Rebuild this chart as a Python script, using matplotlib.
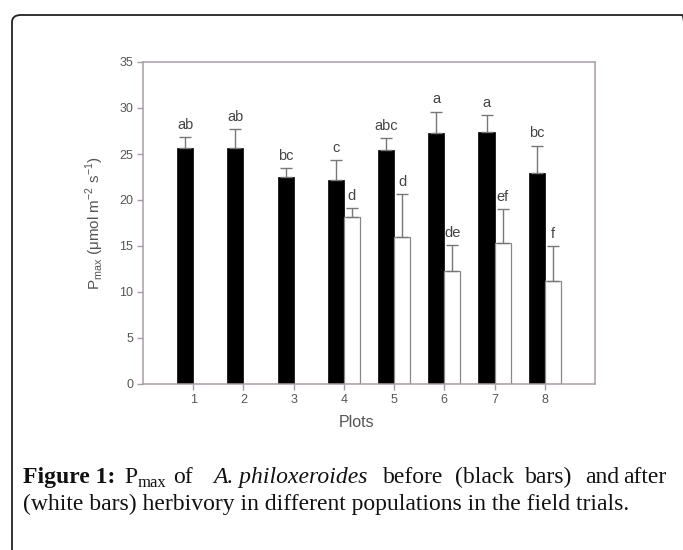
import numpy as np
import matplotlib.pyplot as plt
from matplotlib.patches import FancyBboxPatch

plt.rcParams['font.family'] = ['Liberation Sans', 'DejaVu Sans']

# data
plots = [1, 2, 3, 4, 5, 6, 7, 8]
before = [25.7, 25.7, 22.5, 22.2, 25.4, 27.3, 27.4, 22.9]
before_err = [1.1, 2.0, 1.0, 2.1, 1.3, 2.3, 1.8, 3.0]
after = [np.nan, np.nan, np.nan, 18.1, 16.0, 12.3, 15.3, 11.2]
after_err = [np.nan, np.nan, np.nan, 1.0, 4.6, 2.8, 3.7, 3.8]
before_letters = ['ab', 'ab', 'bc', 'c', 'abc', 'a', 'a', 'bc']
after_letters = ['', '', '', 'd', 'd', 'de', 'ef', 'f']

W, H = 683, 550
fig = plt.figure(figsize=(W / 100, H / 100), dpi=100)

# rounded frame around the figure panel (right and bottom sides run off the page)
frame = FancyBboxPatch((12 / W, -0.1), (W - 12 + 8) / W, 1 - 15 / H + 0.1,
                       boxstyle='round,pad=0,rounding_size=0.013',
                       transform=fig.transFigure, fill=False,
                       edgecolor='#222222', linewidth=1.3)
fig.patches.append(frame)

ax = fig.add_axes([143 / W, 1 - 384 / H, 452 / W, 322 / H])

x = np.array(plots, dtype=float)
bw = 0.32
spine_c = '#a89ca8'
txt_c = '#555555'

ax.bar(x, before, width=-bw, align='edge', color='black', edgecolor='black', linewidth=0.5)
ax.errorbar(x - bw / 2, before, yerr=[np.zeros(8), before_err], fmt='none',
            ecolor='#777777', elinewidth=1, capsize=4, capthick=1)

ax.bar(x, after, width=bw, align='edge', color='white', edgecolor='#888888', linewidth=0.9)
ax.errorbar(x + bw / 2, after, yerr=[np.zeros(8), after_err], fmt='none',
            ecolor='#777777', elinewidth=1, capsize=4, capthick=1)

for i in range(8):
    ax.text(x[i] - bw / 2, before[i] + before_err[i] + 0.9, before_letters[i],
            ha='center', va='baseline', fontsize=10.5, color='#444444')
    if after_letters[i]:
        ax.text(x[i] + bw / 2, after[i] + after_err[i] + 0.9, after_letters[i],
                ha='center', va='baseline', fontsize=10.5, color='#444444')

ax.set_xlim(0, 9)
ax.set_ylim(0, 35)
ax.set_xticks(plots)
ax.set_yticks(range(0, 36, 5))
for s in ax.spines.values():
    s.set_color(spine_c)
    s.set_linewidth(1.1)
ax.tick_params(direction='out', length=4, width=1, color=spine_c,
               labelsize=9, labelcolor=txt_c, pad=3)

ax.set_xlabel('Plots', fontsize=11.5, color=txt_c)
ax.xaxis.set_label_coords((357 - 143) / 452, -0.095)
ax.set_ylabel(r'P$_{\mathregular{max}}$ ($\mathregular{\mu}$mol m$^{\mathregular{-2}}$ s$^{\mathregular{-1}}$)',
              fontsize=11, color=txt_c)
ax.yaxis.set_label_coords(-(143 - 106) / 452, 0.5)

# caption, line 1 laid out word by word (justified in the source)
fs = 17
y1 = 1 - 483 / H
y2 = 1 - 510 / H
serif = 'Liberation Serif'
def cap(xp, s, y=y1, **kw):
    kw.setdefault('fontsize', fs)
    fig.text(xp / W, y, s, family=serif, va='baseline', ha='left', color='#111111', **kw)

cap(23, 'Figure 1:', weight='bold')
cap(124, 'P')
cap(138, 'max', y=1 - 487 / H, fontsize=12)
cap(173, 'of')
cap(213, 'A. philoxeroides', style='italic')
cap(383, 'before')
cap(455, '(black')
cap(525, 'bars)')
cap(585, 'and')
cap(623, 'after')
cap(23, '(white bars) herbivory in different populations in the field trials.', y=y2)

fig.savefig('out.png', dpi=100)
